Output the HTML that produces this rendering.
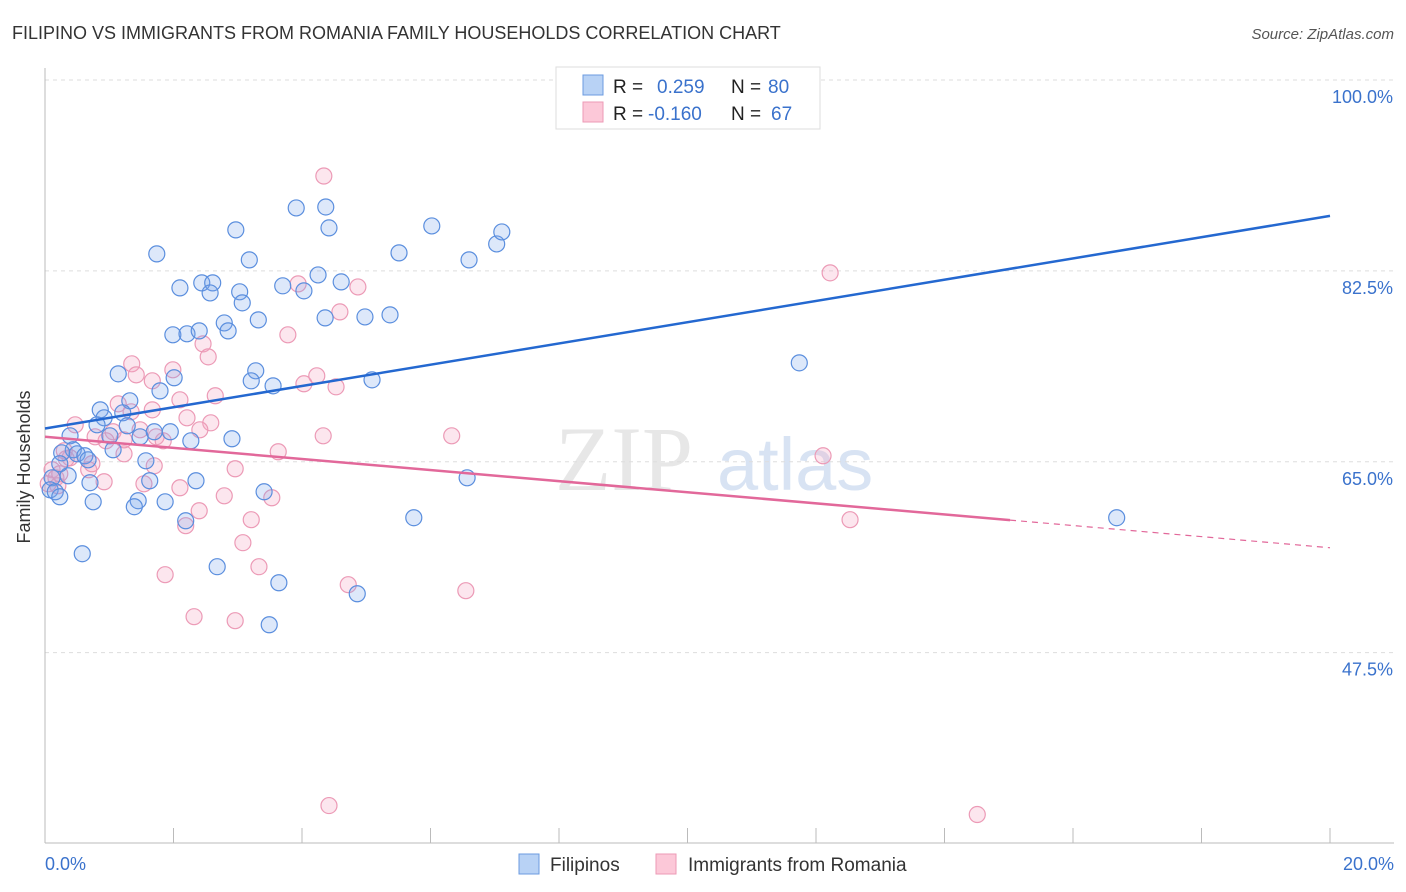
<!DOCTYPE html>
<html><head><meta charset="utf-8"><style>
body{margin:0;background:#fff;font-family:"Liberation Sans",sans-serif}
</style></head><body>
<svg id="chart" width="1406" height="892" xmlns="http://www.w3.org/2000/svg" style="display:block">
<text x="12" y="39" font-size="18" fill="#333">FILIPINO VS IMMIGRANTS FROM ROMANIA FAMILY HOUSEHOLDS CORRELATION CHART</text>
<text x="1394" y="39" font-size="15" fill="#555" font-style="italic" text-anchor="end">Source: ZipAtlas.com</text>
<g><text x="555" y="490" font-size="92" font-family="Liberation Serif,serif" fill="#ddd" opacity="0.7">ZIP</text><text x="717" y="490" font-size="74" fill="#c8d8ef" opacity="0.7">atlas</text></g>
<g id="grid"></g>
<g id="axes"></g>
<g id="marks"></g>
<text x="18" y="455" font-size="18" fill="#333" transform="rotate(-90 30 455)" text-anchor="middle">Family Households</text>
<g>
<rect x="556" y="67" width="264" height="62" fill="#fff" stroke="#ddd"/>
<rect x="583" y="75" width="20" height="20" fill="#b8d2f5" stroke="#6b9be0"/>
<rect x="583" y="102" width="20" height="20" fill="#fcc8d8" stroke="#ec9ab6"/>
<text x="613" y="93" font-size="19" fill="#222">R =</text><text x="657" y="93" font-size="19" fill="#3a72cc">0.259</text>
<text x="731" y="93" font-size="19" fill="#222">N =</text><text x="768" y="93" font-size="19" fill="#3a72cc">80</text>
<text x="613" y="120" font-size="19" fill="#222">R =</text><text x="648" y="120" font-size="19" fill="#3a72cc">-0.160</text>
<text x="731" y="120" font-size="19" fill="#222">N =</text><text x="771" y="120" font-size="19" fill="#3a72cc">67</text>
</g>
<g>
<rect x="519" y="854" width="20" height="20" fill="#b8d2f5" stroke="#6b9be0"/>
<text x="550" y="871" font-size="19" fill="#333">Filipinos</text>
<rect x="656" y="854" width="20" height="20" fill="#fcc8d8" stroke="#ec9ab6"/>
<text x="688" y="871" font-size="19" fill="#333">Immigrants from Romania</text>
</g>
</svg>
<script>
const yTicks=[100,82.5,65,47.5];
const yTickLabels=["100.0%","82.5%","65.0%","47.5%"];
const xTickLabels=["0.0%","20.0%"];
const blueX=[1.74,2.10,2.44,2.61,2.57,2.97,3.18,3.03,3.07,3.70,3.91,4.03,4.37,4.42,4.25,4.61,4.36,4.98,5.37,5.51,6.02,6.60,7.03,7.11,1.99,2.21,2.40,2.79,2.85,3.32,3.28,3.21,3.55,5.09,1.14,2.01,1.79,1.32,0.86,1.21,0.92,0.81,1.28,1.01,1.06,1.48,1.70,1.95,2.27,2.91,0.39,0.44,0.26,0.50,0.62,0.67,0.36,1.57,1.63,2.35,0.70,0.75,1.45,1.39,1.87,2.19,3.41,0.23,0.11,0.08,0.16,0.23,0.58,2.68,3.64,4.86,3.49,5.74,6.57,11.74,16.68];
const blueY=[84.06,80.94,81.40,81.40,80.48,86.26,83.51,80.58,79.57,81.13,88.27,80.67,88.36,86.44,82.13,81.49,78.19,78.28,78.47,84.15,86.62,83.51,84.97,86.07,76.64,76.73,77.00,77.73,77.00,78.01,73.34,72.42,71.96,72.51,73.06,72.70,71.50,70.59,69.76,69.49,69.03,68.39,68.30,67.38,66.10,67.29,67.75,67.75,66.92,67.11,67.38,66.10,65.82,65.73,65.55,65.18,63.72,65.09,63.26,63.26,63.08,61.33,61.43,60.88,61.33,59.59,62.25,64.82,63.53,62.43,62.25,61.79,56.57,55.38,53.91,52.90,50.06,59.87,63.53,74.07,59.87];
const pinkX=[4.34,3.94,4.87,4.59,3.78,2.46,2.54,1.35,1.42,1.67,1.99,2.10,2.65,2.21,2.58,1.67,4.23,4.03,4.53,4.33,6.33,3.63,1.34,1.14,1.06,1.48,1.73,1.23,0.95,0.78,0.47,0.30,0.39,0.68,0.73,0.92,1.70,2.96,2.10,1.54,2.79,3.53,2.40,2.19,3.21,3.08,3.33,1.87,2.32,2.96,4.72,6.55,12.22,12.11,12.53,4.42,14.51,0.11,0.17,0.20,0.05,0.23,0.33,2.41,1.84,1.23];
const pinkY=[91.20,81.31,81.03,78.74,76.64,75.81,74.62,73.98,72.97,72.42,73.43,70.68,71.05,69.03,68.57,69.76,72.88,72.15,71.87,67.38,67.38,65.92,69.58,70.31,67.75,67.93,67.29,65.73,66.92,67.29,68.39,66.01,65.37,64.27,64.82,63.17,64.63,64.36,62.62,62.98,61.88,61.70,60.51,59.14,59.69,57.58,55.38,54.65,50.80,50.43,53.73,53.18,82.32,65.55,59.69,33.48,32.66,64.27,63.53,62.80,62.98,63.90,65.28,67.93,66.92,67.01];
const blueTrend=[68.05,87.54];
const pinkTrend=[67.29,57.12];
const pinkSolidEnd=15.02;
const NS="http://www.w3.org/2000/svg";
const X0=45,X1=1330,YT=80,YB=843,VMIN=30.05,VMAX=100;
function xs(v){return X0+(v/20)*(X1-X0);}
function ys(v){return YT+(VMAX-v)/(VMAX-VMIN)*(YB-YT);}
function mk(tag,attrs,parent){const e=document.createElementNS(NS,tag);for(const k in attrs)e.setAttribute(k,attrs[k]);parent.appendChild(e);return e;}
const grid=document.getElementById('grid'),axes=document.getElementById('axes'),marks=document.getElementById('marks');
yTicks.forEach((t,i)=>{
  const l=mk('line',{x1:X0,x2:1394,y1:ys(t),y2:ys(t),stroke:'#ddd','stroke-dasharray':'4,4'},grid);
  
  
  const tx=mk('text',{x:1393,y:ys(t)+23,'font-size':18,fill:'#3a72cc','text-anchor':'end'},axes);
  tx.textContent=yTickLabels[i];
  
  
});
const al=mk('line',{x1:X0,x2:X0,y1:68,y2:YB,stroke:'#bbb'},axes);


const bl=mk('line',{x1:X0,x2:1394,y1:YB,y2:YB,stroke:'#bbb'},axes);


for(let i=0;i<=10;i++){
  const t=mk('line',{x1:xs(i*2),x2:xs(i*2),y1:828,y2:YB,stroke:'#bbb'},axes);
  
  
}
[[0,'start',45],[20,'end',1394]].forEach((p,i)=>{
  const tx=mk('text',{x:p[2],y:870,'font-size':18,fill:'#3a72cc','text-anchor':p[1]},axes);
  tx.textContent=xTickLabels[i];
  
  
});
function dots(X,Y,fill,stroke,name){
  X.forEach((v,i)=>{
    const c=mk('circle',{cx:xs(v),cy:ys(Y[i]),r:8,fill:fill,stroke:stroke,'stroke-width':1.2},marks);
    
    
  });
}
dots(pinkX,pinkY,'rgba(245,165,195,0.28)','#ec9ab6','romania-point');
dots(blueX,blueY,'rgba(120,165,235,0.25)','#5a8ede','filipino-point');
const bt=mk('line',{x1:xs(0),y1:ys(blueTrend[0]),x2:xs(20),y2:ys(blueTrend[1]),stroke:'#2468d0','stroke-width':2.5},marks);


const pm=pinkTrend[0]+(pinkTrend[1]-pinkTrend[0])*pinkSolidEnd/20;
const pt=mk('line',{x1:xs(0),y1:ys(pinkTrend[0]),x2:xs(pinkSolidEnd),y2:ys(pm),stroke:'#e2689a','stroke-width':2.5},marks);


const pd=mk('line',{x1:xs(pinkSolidEnd),y1:ys(pm),x2:xs(20),y2:ys(pinkTrend[1]),stroke:'#e2689a','stroke-width':1.2,'stroke-dasharray':'6,5'},marks);


</script>
</body></html>
